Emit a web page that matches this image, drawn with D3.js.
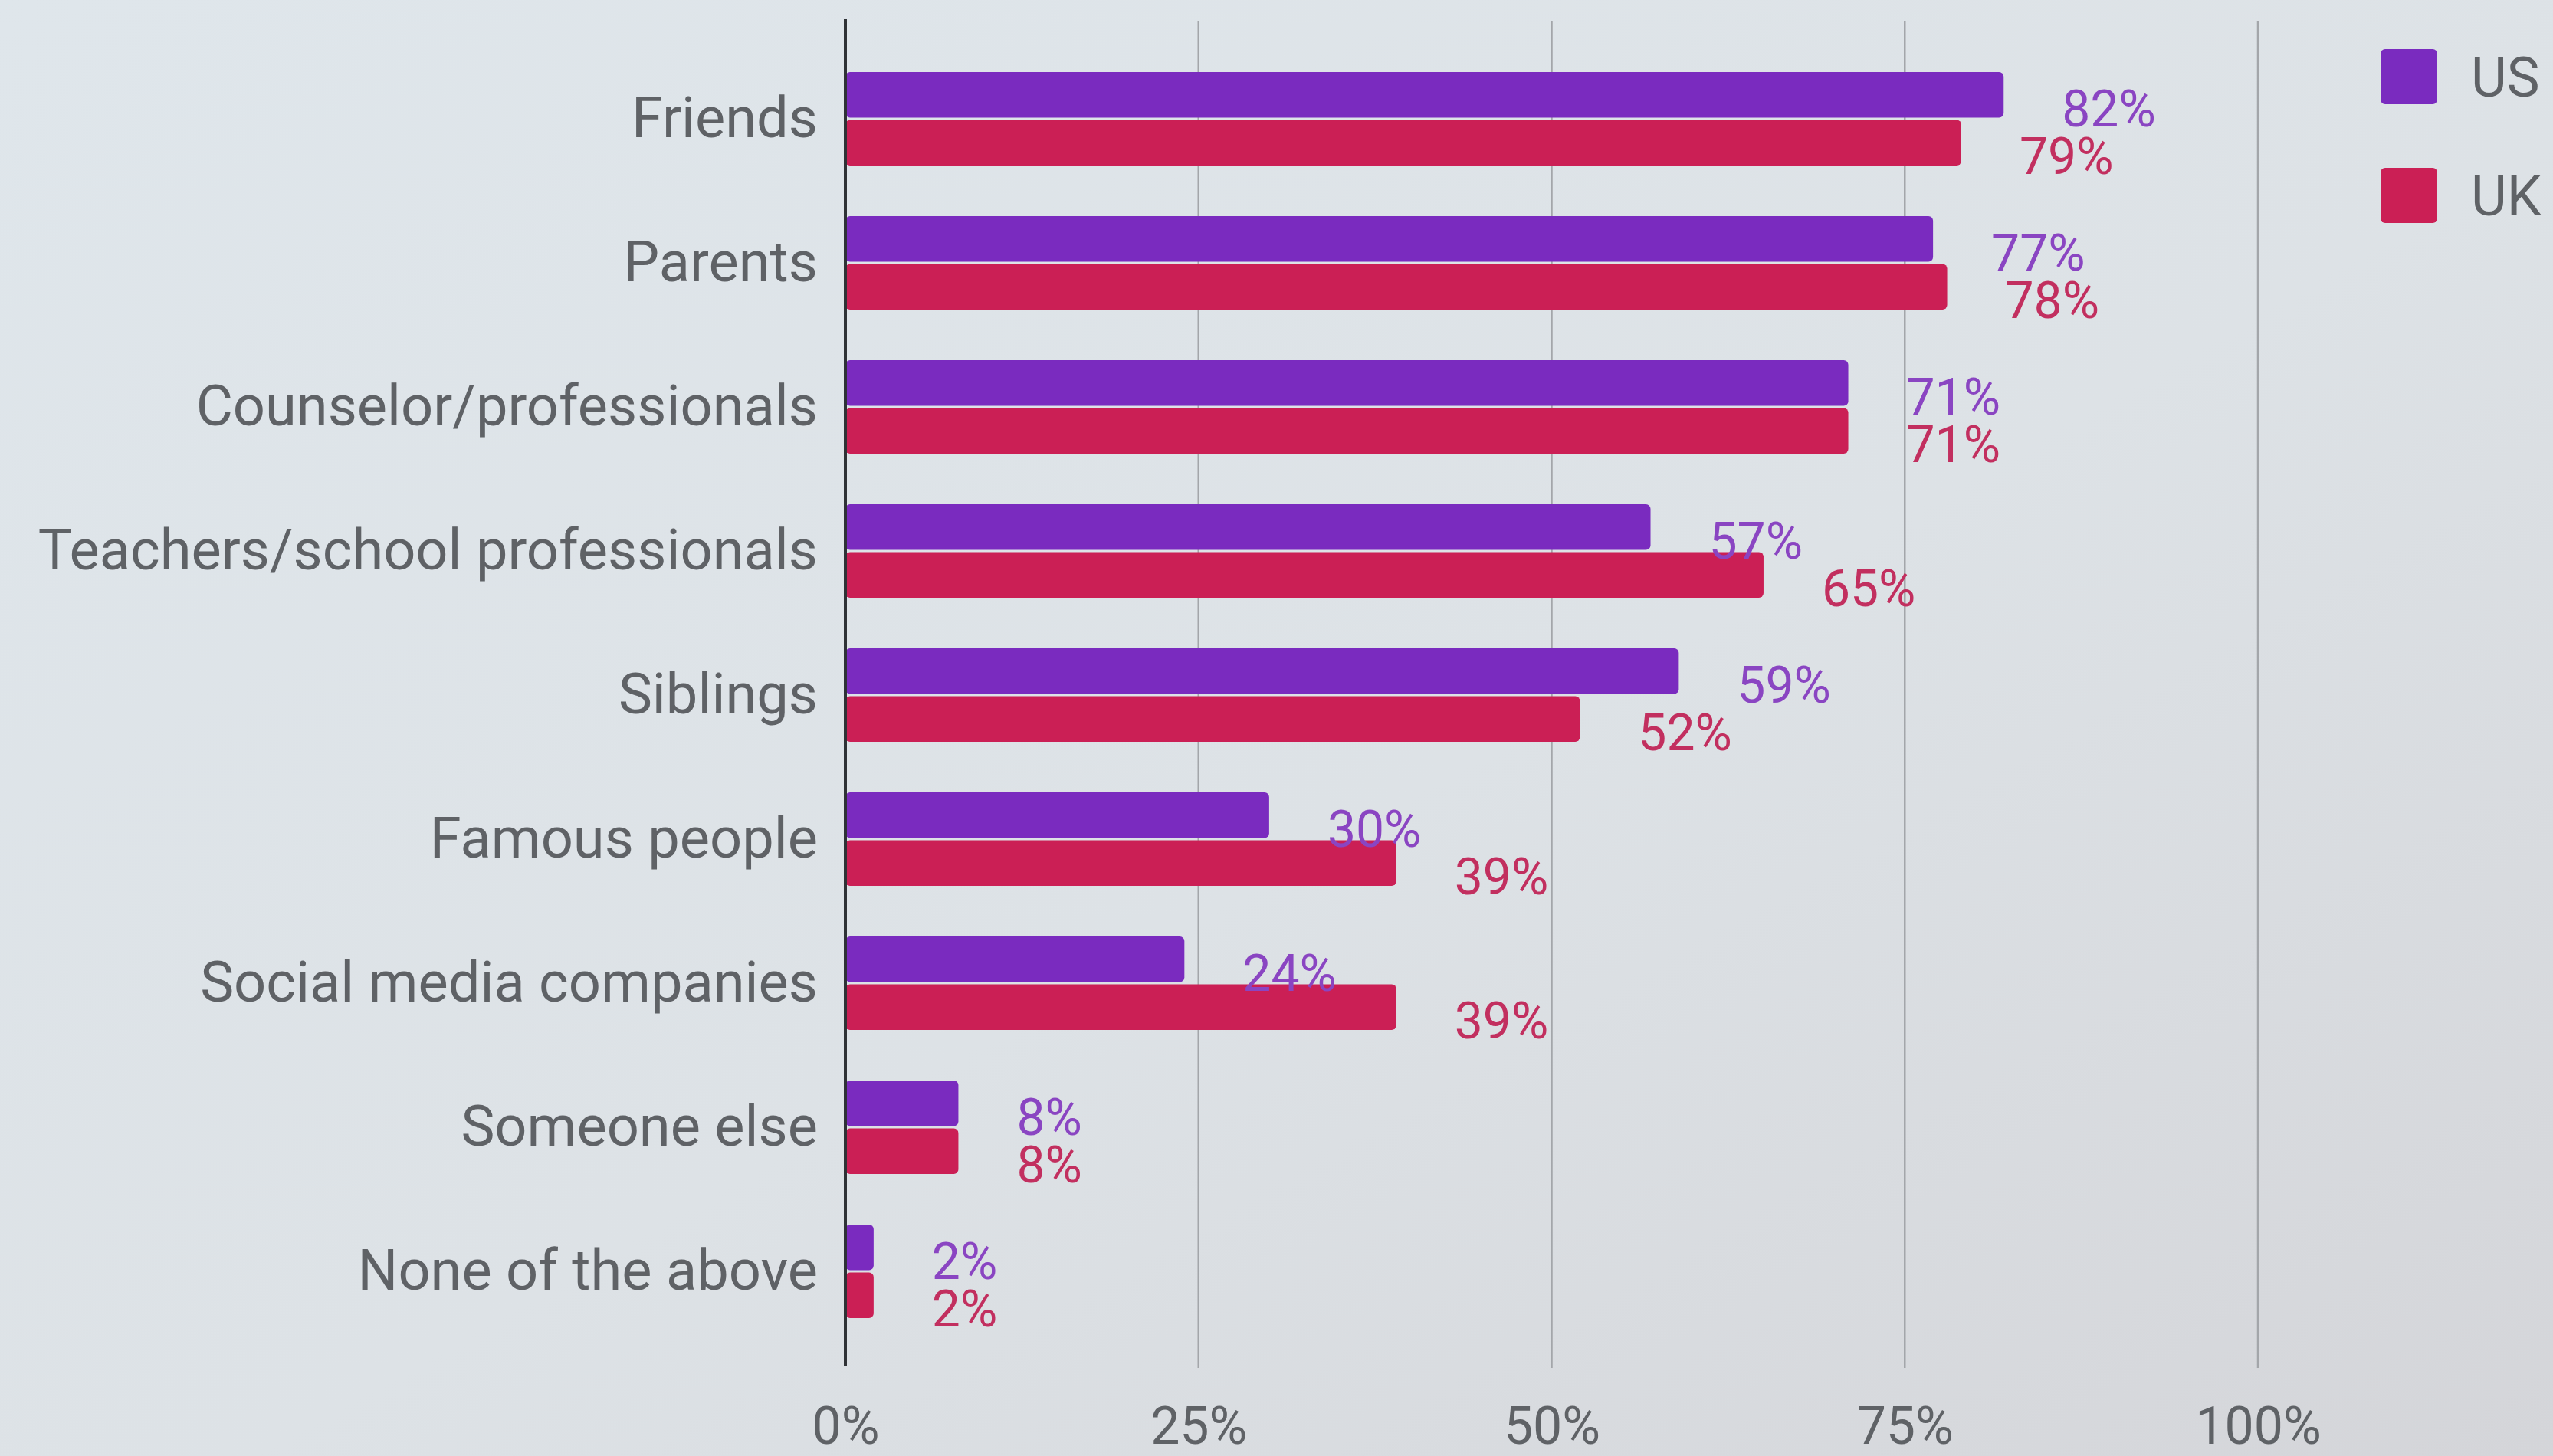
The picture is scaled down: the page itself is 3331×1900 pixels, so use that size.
<!DOCTYPE html>
<html>
<head>
<meta charset="utf-8">
<script src="https://cdn.jsdelivr.net/npm/d3@7"></script>
<style>
  html, body { margin: 0; padding: 0; overflow: hidden; }
  body { width: 3331px; height: 1900px; }
  svg { display: block; font-family: Roboto, "Noto Sans", sans-serif; }
</style>
</head>
<body>
<svg id="chart" width="3331" height="1900"></svg>
<script>
// Who young people would turn to — share of respondents, US vs UK
const categories = [
  "Friends",
  "Parents",
  "Counselor/professionals",
  "Teachers/school professionals",
  "Siblings",
  "Famous people",
  "Social media companies",
  "Someone else",
  "None of the above"
];
const seriesNames = ["US", "UK"];
const usValues = [82, 77, 71, 57, 59, 30, 24, 8, 2];
const ukValues = [79, 78, 71, 65, 52, 39, 39, 8, 2];
const tickValues = [0, 25, 50, 75, 100];
const tickLabels = ["0%", "25%", "50%", "75%", "100%"];

const barColors = { US: "#7a2bbf", UK: "#cb1f55" };
const labelColors = { US: "#8a45c2", UK: "#c22f5f" };
const textGrey = "#5f6266";

const W = 3331, H = 1900;
const svg = d3.select("#chart");

// soft screen-like backdrop
const defs = svg.append("defs");
const bg = defs.append("linearGradient").attr("id", "bg")
  .attr("x1", 0).attr("y1", 0).attr("x2", 1).attr("y2", 1);
bg.append("stop").attr("offset", "0%").attr("stop-color", "#dfe6eb");
bg.append("stop").attr("offset", "55%").attr("stop-color", "#dde2e6");
bg.append("stop").attr("offset", "100%").attr("stop-color", "#d4d5d9");
svg.append("rect").attr("width", W).attr("height", H).attr("fill", "url(#bg)");

const x = d3.scaleLinear().domain([0, 100]).range([1103, 2946]);
const y = d3.scaleBand().domain(categories).range([61, 1753])
  .paddingInner(0.35).paddingOuter(0.175);
const ySub = d3.scaleBand().domain(seriesNames).range([0, y.bandwidth()]).paddingInner(0.05);

const rows = categories.map((c, i) => ({ cat: c, US: usValues[i], UK: ukValues[i] }));

// gridlines
svg.append("g")
  .selectAll("line")
  .data(tickValues.filter(t => t > 0))
  .join("line")
  .attr("x1", d => x(d)).attr("x2", d => x(d))
  .attr("y1", 28).attr("y2", 1785)
  .attr("stroke", "#a3a6aa").attr("stroke-width", 2.5);

// x axis tick labels
const xAxis = d3.axisBottom(x).tickValues(tickValues)
  .tickFormat((d, i) => tickLabels[i]).tickSize(0).tickPadding(0);
const gx = svg.append("g").attr("transform", "translate(0,1836)").call(xAxis);
gx.select(".domain").remove();
gx.selectAll("text")
  .attr("font-size", 68).attr("fill", textGrey).attr("font-family", "Roboto, sans-serif");

// y axis category labels
const yAxis = d3.axisLeft(y).tickSize(0).tickPadding(36);
const gy = svg.append("g").attr("transform", `translate(${x(0)},0)`).call(yAxis);
gy.select(".domain").remove();
gy.selectAll("text")
  .attr("font-size", 74).attr("fill", textGrey).attr("font-family", "Roboto, sans-serif");

// bars
const groups = svg.append("g").selectAll("g")
  .data(rows).join("g")
  .attr("transform", d => `translate(0,${y(d.cat)})`);

groups.selectAll("rect")
  .data(d => seriesNames.map(s => ({ key: s, value: d[s] })))
  .join("rect")
  .attr("x", x(0))
  .attr("y", d => ySub(d.key))
  .attr("width", d => x(d.value) - x(0))
  .attr("height", ySub.bandwidth())
  .attr("rx", 6)
  .attr("fill", d => barColors[d.key]);

// value labels
groups.selectAll("text.val")
  .data(d => seriesNames.map(s => ({ key: s, value: d[s] })))
  .join("text")
  .attr("class", "val")
  .attr("x", d => x(d.value) + 76)
  .attr("y", d => ySub(d.key) + ySub.bandwidth() / 2 + 18)
  .attr("dy", "0.35em")
  .attr("font-size", 66)
  .attr("fill", d => labelColors[d.key])
  .text(d => d.value + "%");

// zero axis line
svg.append("line")
  .attr("x1", x(0)).attr("x2", x(0))
  .attr("y1", 25).attr("y2", 1782)
  .attr("stroke", "#2f3236").attr("stroke-width", 4);

// legend
const legend = svg.append("g").attr("transform", "translate(3106,64)");
const li = legend.selectAll("g").data(seriesNames).join("g")
  .attr("transform", (d, i) => `translate(0,${i * 155})`);
li.append("rect").attr("width", 74).attr("height", 72).attr("rx", 6)
  .attr("fill", d => barColors[d]);
li.append("text").attr("x", 118).attr("y", 36).attr("dy", "0.36em")
  .attr("font-size", 72).attr("fill", textGrey).text(d => d);
</script>
</body>
</html>
